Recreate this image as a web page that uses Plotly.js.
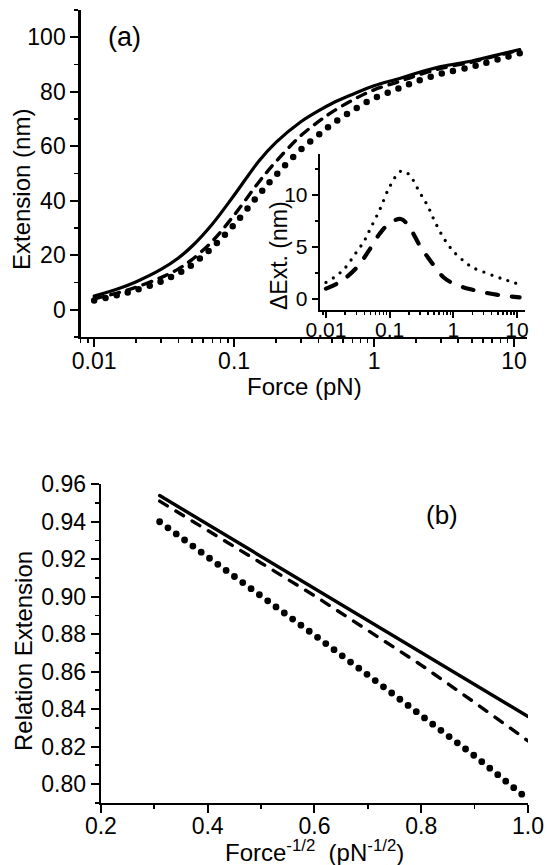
<!DOCTYPE html>
<html><head><meta charset="utf-8">
<script src="https://cdn.plot.ly/plotly-3.0.1.min.js"></script>
<style>
html,body{margin:0;padding:0;background:#fff;}
#chart{width:547px;height:865px;}
.scatterlayer .js-line{stroke-linecap:round;}
</style></head><body><div id="chart"></div>
<script>
// ---- Panel (a): extension vs force ----
const force = [0.01, 0.015, 0.02, 0.03, 0.04, 0.05, 0.07, 0.1, 0.15, 0.2, 0.3, 0.4, 0.5, 0.7, 1, 1.5, 2, 3, 5, 7, 11];
const extSolid  = [5.0, 7.8, 10.3, 14.8, 19.0, 23.3, 31.5, 42.0, 54.5, 61.5, 69.0, 73.0, 75.7, 79.0, 82.2, 84.8, 86.8, 89.2, 91.3, 93.1, 95.5];
const extDashed = [4.0, 6.3, 8.3, 11.8, 15.0, 18.4, 25.2, 34.7, 46.8, 54.5, 63.9, 69.0, 72.5, 76.9, 80.7, 83.7, 85.9, 88.55, 90.9, 92.8, 95.3];
const extDotted = [3.4, 5.5, 7.3, 10.3, 13.4, 16.5, 22.9, 31.2, 42.2, 49.5, 58.8, 64.1, 68.1, 73.1, 77.6, 81.2, 83.75, 86.6, 89.2, 91.3, 94.1];
// ---- Inset: difference in extension ----
const deltaDotted = [1.6, 2.3, 3.0, 4.5, 5.6, 6.8, 8.6, 10.8, 12.3, 12.0, 10.2, 8.9, 7.6, 5.9, 4.6, 3.6, 3.05, 2.6, 2.1, 1.8, 1.4];
const deltaDashed = [1.0, 1.5, 2.0, 3.0, 4.0, 4.9, 6.3, 7.3, 7.7, 7.0, 5.1, 4.0, 3.2, 2.1, 1.5, 1.1, 0.9, 0.65, 0.4, 0.28, 0.16];
// ---- Panel (b): relative extension vs force^-1/2 ----
const invSqrtForce = [0.31, 0.4, 0.5, 0.6, 0.7, 0.8, 0.9, 1.0];
const relSolid  = [0.9540, 0.9386, 0.9215, 0.9044, 0.8873, 0.8702, 0.8531, 0.8360];
const relDashed = [0.9510, 0.9355, 0.9180, 0.9005, 0.8820, 0.8635, 0.8435, 0.8230];
const relDotted = [0.9400, 0.9215, 0.9010, 0.8795, 0.8582, 0.8370, 0.8150, 0.7918];
// ---- tick labels ----
const logTickVals = [0.01, 0.1, 1, 10];
const logTickText = ['0.01', '0.1', '1', '10'];
const bTickVals = [0.2, 0.4, 0.6, 0.8, 1.0];
const bTickText = ['0.2', '0.4', '0.6', '0.8', '1.0'];

function logMinor(lo, hi){ const v=[]; for(let e=lo;e<=hi;e++){ for(let m=2;m<=9;m++){ v.push(+(m*Math.pow(10,e)).toPrecision(3)); } } return v; }

const FONT = 'Liberation Sans, Arial, sans-serif';
const black = '#000';

const traces = [
  {x: force, y: extSolid, xaxis:'x', yaxis:'y', mode:'lines', line:{color:black, width:3.2, shape:'spline'}},
  {x: force, y: extDashed, xaxis:'x', yaxis:'y', mode:'lines', line:{color:black, width:3.4, dash:'9px,8px', shape:'spline'}},
  {x: force, y: extDotted, xaxis:'x', yaxis:'y', mode:'lines', line:{color:black, width:6.5, dash:'0px,11.5px', shape:'spline'}},
  {x: force, y: deltaDotted, xaxis:'x2', yaxis:'y2', mode:'lines', line:{color:black, width:3.3, dash:'0px,8.5px', shape:'spline'}},
  {x: force, y: deltaDashed, xaxis:'x2', yaxis:'y2', mode:'lines', line:{color:black, width:4.2, dash:'11px,14px', shape:'spline'}},
  {x: invSqrtForce, y: relSolid, xaxis:'x3', yaxis:'y3', mode:'lines', line:{color:black, width:3.4}},
  {x: invSqrtForce, y: relDashed, xaxis:'x3', yaxis:'y3', mode:'lines', line:{color:black, width:3.4, dash:'9px,10px'}},
  {x: invSqrtForce, y: relDotted, xaxis:'x3', yaxis:'y3', mode:'lines', line:{color:black, width:6.8, dash:'0px,10.3px'}}
];

const TICK = 23;
const axBase = {showline:true, linewidth:2.3, linecolor:black, ticks:'outside', ticklen:8, tickwidth:2, tickcolor:black,
  showgrid:false, zeroline:false, mirror:false, tickfont:{family:FONT, size:TICK, color:black}};
const minorBase = {ticks:'outside', ticklen:4, tickwidth:1.7, tickcolor:black};

const W = 547, H = 865;
function px(x){ return x / W; }
function py(y){ return 1 - y / H; }
function title(text, x, y, size, angle){
  return {text:text, xref:'paper', yref:'paper', x:px(x), y:py(y), xanchor:'center', yanchor:'middle',
    showarrow:false, textangle:angle||0, font:{family:FONT, size:size, color:black}};
}

const layout = {
  width: W, height: H, margin:{l:0, r:0, t:0, b:0}, showlegend:false,
  paper_bgcolor:'#fff', plot_bgcolor:'rgba(0,0,0,0)',
  font:{family:FONT, color:black},
  xaxis: Object.assign({}, axBase, {type:'log', domain:[px(80.6), px(527.4)], range:[-2.097, 1.096], anchor:'y',
    tickmode:'array', tickvals:logTickVals, ticktext:logTickText, ticklabelstandoff:-6,
    minor:Object.assign({}, minorBase, {tickmode:'array', tickvals:logMinor(-3,1)})}),
  yaxis: Object.assign({}, axBase, {domain:[py(337), py(10)], range:[-10, 110], anchor:'x', tick0:0, dtick:20,
    minor:Object.assign({}, minorBase, {dtick:10, tick0:0})}),
  xaxis2: Object.assign({}, axBase, {type:'log', domain:[px(320), px(525)], range:[-2.094, 1.126], anchor:'y2',
    tickmode:'array', tickvals:logTickVals, ticktext:logTickText, ticklen:6, ticklabelstandoff:-7,
    tickfont:{family:FONT, size:21, color:black},
    minor:{ticks:'outside', ticklen:3, tickwidth:1.4, tickcolor:black, tickmode:'array', tickvals:logMinor(-3,1)}}),
  yaxis2: Object.assign({}, axBase, {domain:[py(310), py(154)], range:[-1.05, 13.95], anchor:'x2', tick0:0, dtick:5, ticklen:6,
    tickfont:{family:FONT, size:21, color:black},
    minor:{ticks:'outside', ticklen:3, tickwidth:1.4, tickcolor:black, dtick:2.5, tick0:0}}),
  xaxis3: Object.assign({}, axBase, {domain:[px(100.9), px(528)], range:[0.2, 1.0], anchor:'y3',
    tickmode:'array', tickvals:bTickVals, ticktext:bTickText, ticklabelstandoff:-7,
    minor:Object.assign({}, minorBase, {dtick:0.1, tick0:0.2})}),
  yaxis3: Object.assign({}, axBase, {domain:[py(802.7), py(484.3)], range:[0.79, 0.96], anchor:'x3', tick0:0.8, dtick:0.02,
    tickformat:'.2f',
    minor:Object.assign({}, minorBase, {dtick:0.01, tick0:0.8})}),
  annotations:[
    title('Force (pN)', 304, 387, 24, 0),
    title('Extension (nm)', 21, 190, 24, -90),
    title('\u0394Ext. (nm)', 279, 256, 23, -90),
    title('Force<sup>-1/2</sup>  (pN<sup>-1/2</sup>)', 314, 851, 24, 0),
    title('Relation Extension', 23, 651, 24, -90),
    title('(a)', 124.8, 37.5, 27, 0),
    title('(b)', 441.5, 515, 26, 0)
  ]
};

Plotly.newPlot('chart', traces, layout, {staticPlot:true, displayModeBar:false});
</script></body></html>
